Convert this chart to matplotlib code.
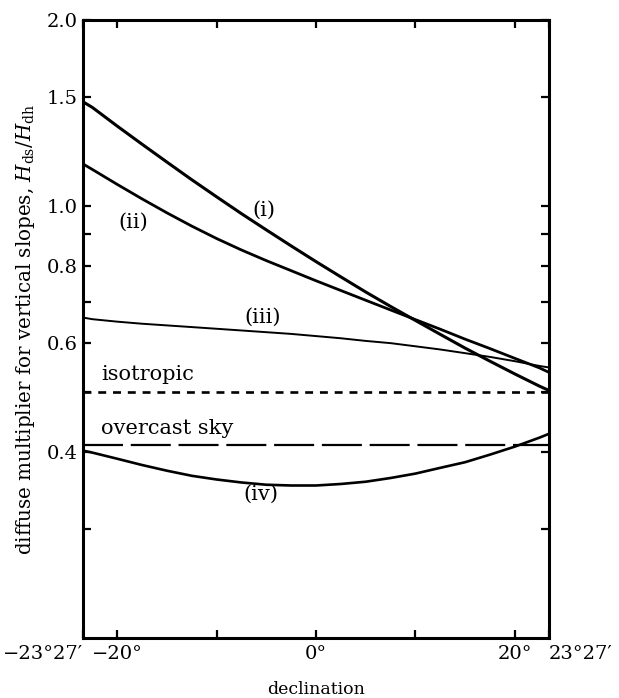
import numpy as np
import matplotlib
matplotlib.use("Agg")
from matplotlib import pyplot as plt
from matplotlib.ticker import FixedLocator, NullLocator

plt.rcParams["font.family"] = "DejaVu Serif"
plt.rcParams["mathtext.fontset"] = "dejavuserif"

# Solar declination (degrees), from winter to summer solstice
decl = [-23.45, -22.5, -20, -17.5, -15, -12.5, -10, -7.5, -5, -2.5, 0,
        2.5, 5, 7.5, 10, 12.5, 15, 17.5, 20, 22.5, 23.45]

# Diffuse multiplier H_ds/H_dh for vertical slopes, cases (i)-(iv)
mult_i = [1.475, 1.444, 1.347, 1.259, 1.178, 1.103, 1.035, 0.972, 0.915, 0.862, 0.813,
          0.768, 0.726, 0.688, 0.653, 0.620, 0.589, 0.561, 0.535, 0.511, 0.503]
mult_ii = [1.170, 1.146, 1.084, 1.027, 0.975, 0.928, 0.886, 0.849, 0.816, 0.786, 0.757,
           0.730, 0.704, 0.679, 0.655, 0.632, 0.609, 0.588, 0.567, 0.547, 0.538]
mult_iii = [0.660, 0.656, 0.650, 0.645, 0.641, 0.637, 0.633, 0.629, 0.625, 0.621, 0.616,
            0.611, 0.605, 0.600, 0.593, 0.586, 0.578, 0.570, 0.561, 0.551, 0.548]
mult_iv = [0.402, 0.399, 0.390, 0.381, 0.373, 0.366, 0.361, 0.357, 0.354, 0.353, 0.353,
           0.355, 0.358, 0.363, 0.369, 0.377, 0.385, 0.396, 0.408, 0.422, 0.428]

# Reference levels
isotropic = 0.5
overcast = 0.41

x_ticks = [-23.45, -20, -10, 0, 10, 20, 23.45]
x_labels = ["\u221223\u00b027\u2032", "\u221220\u00b0", "", "0\u00b0", "", "20\u00b0", "23\u00b027\u2032"]
y_ticks = [0.3, 0.4, 0.5, 0.6, 0.7, 0.8, 0.9, 1.0, 1.5, 2.0]
y_labels = ["", "0.4", "", "0.6", "", "0.8", "", "1.0", "1.5", "2.0"]

fig = plt.figure(figsize=(6.19, 6.98), dpi=100)
ax = fig.add_axes([0.134, 0.086, 0.753, 0.8853])

ax.plot(decl, mult_i, color="black", lw=2.2, solid_capstyle="butt")
ax.plot(decl, mult_ii, color="black", lw=2.0, solid_capstyle="butt")
ax.plot(decl, mult_iii, color="black", lw=1.4, solid_capstyle="butt")
ax.plot(decl, mult_iv, color="black", lw=1.9, solid_capstyle="butt")

ax.axhline(isotropic, color="black", lw=1.9, dashes=(3.0, 2.6))
ax.axhline(overcast, color="black", lw=1.6, dashes=(18.0, 3.5))

ax.set_yscale("log")
ax.set_xlim(-23.45, 23.45)
ax.set_ylim(0.2, 2.0)

ax.yaxis.set_major_locator(FixedLocator(y_ticks))
ax.yaxis.set_minor_locator(NullLocator())
ax.set_yticklabels(y_labels)
ax.set_xticks(x_ticks)
ax.set_xticklabels(x_labels)

labels = ax.get_xticklabels()
labels[0].set_horizontalalignment("right")
labels[-1].set_horizontalalignment("left")

ax.tick_params(axis="both", which="both", direction="in", length=6, width=1.6,
               top=True, right=True, labelsize=14, pad=5)
ax.tick_params(axis="y", pad=4)
for side in ax.spines.values():
    side.set_linewidth(2.2)

ax.set_xlabel("declination", fontsize=12.5, labelpad=13)
ax.set_ylabel(r"diffuse multiplier for vertical slopes, $H_{\rm ds}/H_{\rm dh}$",
              fontsize=14.3, labelpad=7)

# Curve annotations
ax.text(-5.2, 0.985, "(i)", fontsize=15, ha="center", va="center")
ax.text(-18.4, 0.94, "(ii)", fontsize=15, ha="center", va="center")
ax.text(-5.4, 0.66, "(iii)", fontsize=15, ha="center", va="center")
ax.text(-5.5, 0.341, "(iv)", fontsize=15, ha="center", va="center")
ax.text(-21.6, 0.515, "isotropic", fontsize=15, ha="left", va="bottom")
ax.text(-21.6, 0.422, "overcast sky", fontsize=15, ha="left", va="bottom")

fig.savefig("out.png", dpi=100)
